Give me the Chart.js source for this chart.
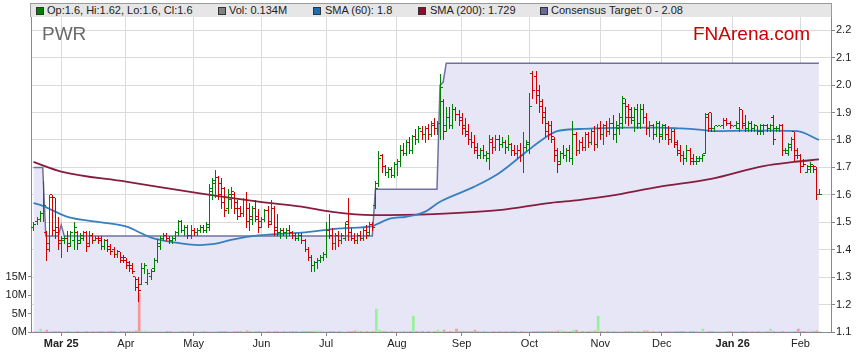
<!DOCTYPE html>
<html><head><meta charset="utf-8">
<script src="https://cdn.jsdelivr.net/npm/chart.js@4.4.1/dist/chart.umd.min.js"></script>
<style>
html,body{margin:0;padding:0;background:#fff;}
#wrap{position:relative;width:859px;height:363px;overflow:hidden;font-family:"Liberation Sans",Arial,sans-serif;}
#c{position:absolute;left:0;top:0;}
#hdr{position:absolute;left:30px;top:3px;width:800px;height:13px;background:#e6e6e6;border-top:1px solid #9a9a9a;border-left:1px solid #9a9a9a;border-right:1px solid #9a9a9a;}
.it{position:absolute;top:1px;font-size:11px;line-height:11px;color:#222;white-space:nowrap;}
.sq{position:absolute;top:3px;width:6px;height:6px;border:1px solid #333;}
#sym{position:absolute;left:42px;top:24px;font-size:19px;line-height:19px;color:#6a6a6a;}
#brand{position:absolute;left:693px;top:24px;font-size:19px;line-height:19px;color:#cc0000;}
</style></head>
<body>
<div id="wrap">
<canvas id="c" width="859" height="363"></canvas>
<div id="hdr">
  <div class="sq" style="left:5px;background:#008000"></div><div class="it" id="lgOHLC" style="left:16px"></div>
  <div class="sq" style="left:187px;background:#808080"></div><div class="it" id="lgVol" style="left:198px"></div>
  <div class="sq" style="left:282px;background:#1f6db0"></div><div class="it" id="lgS60" style="left:294px"></div>
  <div class="sq" style="left:387px;background:#8a0f30"></div><div class="it" id="lgS200" style="left:399px"></div>
  <div class="sq" style="left:509px;background:#6a6a9a"></div><div class="it" id="lgTgt" style="left:520px"></div>
</div>
<div id="sym">PWR</div>
<div id="brand">FNArena.com</div>
</div>
<script>
// ---- categories / ticks ----
const tickIdx    = [9, 30, 52, 74, 95, 118, 139, 161, 184, 204, 227, 249];
const tickLabels = ['Mar 25','Apr','May','Jun','Jul','Aug','Sep','Oct','Nov','Dec','Jan 26','Feb'];
const priceTicks = [1.1,1.2,1.3,1.4,1.5,1.6,1.7,1.8,1.9,2.0,2.1,2.2];
const volTicks   = [0, 5, 10, 15];

// ---- OHLC (one bar per weekday, 18 Feb 2025 .. 10 Feb 2026) ----
const opens = [
1.48,1.50,1.51,1.53,1.46,1.42,1.60,1.59,1.48,1.42,
1.43,1.44,1.42,1.43,1.46,1.43,1.44,1.46,1.42,1.45,
1.43,1.44,1.44,1.41,1.43,1.41,1.40,1.38,1.39,1.37,
1.37,1.35,1.34,1.30,1.29,1.27,1.33,1.28,1.30,1.33,
1.36,1.41,1.44,1.45,1.44,1.43,1.44,1.46,1.50,1.47,
1.48,1.45,
1.47,1.46,1.47,1.48,1.47,1.48,1.61,1.64,
1.66,1.64,1.62,1.55,1.58,1.60,1.57,1.55,1.53,1.58,
1.55,1.51,1.55,1.52,
1.50,1.51,1.54,1.50,1.55,1.48,
1.46,1.47,1.46,1.47,1.46,1.45,1.44,1.45,1.43,1.40,
1.37,1.34,1.35,1.36,1.37,
1.38,1.47,1.45,1.42,1.45,
1.43,1.44,1.50,1.46,1.44,1.43,1.45,1.44,1.47,
1.46,1.49,1.56,1.64,1.74,1.70,1.68,1.69,1.67,
1.71,1.72,1.76,1.75,1.79,1.76,1.81,1.80,1.83,1.82,
1.84,1.82,1.85,1.84,1.86,1.94,1.85,1.88,1.85,1.91,1.89,
1.88,1.85,1.83,1.80,1.79,1.77,1.74,1.76,1.74,1.73,
1.79,1.77,1.80,1.78,1.79,1.77,1.78,1.76,
1.75,1.76,1.74,1.77,
1.78,2.04,2.03,1.98,1.94,1.90,1.86,1.85,1.80,1.76,
1.72,1.75,1.74,1.76,1.73,1.82,1.76,1.79,1.77,1.82,1.79,1.83,1.78,
1.84,1.82,1.85,1.83,1.86,1.82,1.84,1.86,1.93,1.92,
1.91,1.87,1.91,1.86,1.91,1.88,1.84,1.85,1.82,1.86,
1.82,1.85,1.82,1.80,1.83,1.79,1.76,1.74,1.73,1.76,
1.73,1.72,1.72,1.73,1.75,1.88,1.90,1.84,1.85,1.85,1.85,1.87,1.86,
1.85,1.85,1.84,1.91,1.86,1.84,1.86,1.84,1.85,1.83,1.83,
1.85,1.84,1.88,1.84,1.84,1.85,1.76,1.75,1.77,1.83,
1.76,1.74,1.72,1.68,1.69,1.70,1.70,1.60];
const highs = [
1.50,1.52,1.54,1.65,1.47,1.60,1.60,1.59,1.52,1.45,
1.45,1.47,1.47,1.50,1.47,1.46,1.47,1.47,1.47,1.46,
1.45,1.45,1.45,1.44,1.44,1.42,1.41,1.40,1.39,1.38,
1.37,1.36,1.35,1.30,1.30,1.35,1.35,1.33,1.33,1.37,
1.44,1.45,1.46,1.46,1.45,1.45,1.47,1.51,1.51,1.49,
1.49,1.49,
1.48,1.48,1.49,1.49,1.50,1.64,1.66,1.69,
1.67,1.66,1.63,1.62,1.63,1.61,1.58,1.56,1.59,1.61,
1.57,1.56,1.58,1.55,
1.52,1.55,1.56,1.58,1.56,1.53,
1.48,1.48,1.48,1.49,1.47,1.46,1.46,1.46,1.44,1.41,
1.38,1.36,1.37,1.38,1.39,
1.50,1.53,1.48,1.46,1.47,
1.46,1.50,1.59,1.48,1.46,1.46,1.47,1.48,1.49,
1.50,1.50,1.65,1.76,1.75,1.71,1.70,1.70,1.72,
1.73,1.78,1.79,1.80,1.81,1.82,1.84,1.85,1.85,1.85,
1.86,1.87,1.88,1.87,2.04,1.95,1.92,1.92,1.93,1.92,1.91,
1.90,1.88,1.86,1.83,1.82,1.79,1.77,1.78,1.76,1.82,
1.81,1.82,1.82,1.81,1.80,1.82,1.79,1.78,
1.78,1.79,1.83,1.80,
1.97,2.05,2.05,2.00,1.95,1.92,1.87,1.87,1.81,1.77,
1.76,1.78,1.77,1.78,1.87,1.83,1.80,1.81,1.83,1.83,1.84,1.85,1.86,
1.87,1.86,1.87,1.88,1.89,1.87,1.90,1.96,1.95,1.93,
1.92,1.92,1.93,1.93,1.93,1.90,1.87,1.86,1.87,1.87,
1.86,1.86,1.85,1.84,1.84,1.80,1.78,1.76,1.78,1.77,
1.75,1.74,1.74,1.75,1.90,1.90,1.90,1.85,1.85,1.85,1.88,1.88,1.87,
1.85,1.87,1.92,1.91,1.89,1.87,1.87,1.86,1.85,1.86,1.86,
1.86,1.86,1.89,1.85,1.86,1.86,1.77,1.79,1.81,1.83,
1.77,1.75,1.73,1.71,1.72,1.71,1.70,1.62];
const lows = [
1.47,1.49,1.50,1.50,1.36,1.39,1.45,1.44,1.40,1.37,
1.42,1.39,1.41,1.40,1.40,1.42,1.43,1.39,1.41,1.42,
1.43,1.42,1.40,1.40,1.39,1.38,1.37,1.37,1.35,1.35,
1.33,1.32,1.31,1.25,1.21,1.27,1.31,1.27,1.29,1.32,
1.35,1.40,1.43,1.43,1.42,1.42,1.43,1.45,1.46,1.45,
1.44,1.44,
1.45,1.45,1.46,1.46,1.46,1.47,1.58,1.59,
1.58,1.55,1.52,1.53,1.55,1.53,1.51,1.52,1.52,1.48,
1.47,1.49,1.50,1.46,
1.48,1.50,1.48,1.49,1.45,1.45,
1.44,1.45,1.44,1.45,1.44,1.43,1.43,1.42,1.39,1.36,
1.32,1.32,1.33,1.35,1.36,
1.37,1.44,1.40,1.40,1.41,
1.42,1.43,1.43,1.43,1.42,1.42,1.43,1.43,1.44,
1.45,1.47,1.55,1.63,1.68,1.67,1.66,1.66,1.66,
1.67,1.70,1.74,1.74,1.75,1.75,1.78,1.79,1.80,1.79,
1.80,1.81,1.82,1.82,1.80,1.80,1.83,1.84,1.84,1.87,1.85,
1.82,1.81,1.78,1.77,1.75,1.73,1.73,1.73,1.72,1.69,
1.75,1.76,1.76,1.77,1.75,1.76,1.74,1.74,
1.73,1.72,1.68,1.76,
1.75,1.95,1.93,1.90,1.86,1.81,1.80,1.79,1.72,1.68,
1.71,1.73,1.72,1.72,1.71,1.74,1.75,1.76,1.76,1.77,1.78,1.76,1.77,
1.80,1.78,1.81,1.82,1.80,1.79,1.82,1.84,1.86,1.85,
1.86,1.83,1.84,1.84,1.86,1.82,1.81,1.80,1.81,1.79,
1.80,1.80,1.78,1.79,1.77,1.74,1.72,1.71,1.72,1.71,
1.71,1.71,1.72,1.72,1.75,1.83,1.83,1.83,1.85,1.85,1.84,1.85,1.84,
1.85,1.84,1.83,1.84,1.83,1.83,1.83,1.83,1.82,1.82,1.82,
1.83,1.83,1.78,1.83,1.83,1.74,1.75,1.74,1.76,1.72,
1.73,1.68,1.70,1.68,1.68,1.68,1.58,1.60];
const closes = [
1.49,1.51,1.53,1.56,1.40,1.59,1.47,1.46,1.43,1.44,
1.44,1.41,1.46,1.48,1.42,1.45,1.46,1.41,1.45,1.43,
1.44,1.43,1.41,1.43,1.40,1.39,1.38,1.39,1.36,1.36,
1.34,1.33,1.32,1.26,1.25,1.33,1.34,1.31,1.32,1.36,
1.42,1.44,1.45,1.44,1.43,1.44,1.46,1.50,1.47,1.48,
1.45,1.47,
1.46,1.47,1.48,1.47,1.49,1.62,1.65,1.66,
1.60,1.57,1.54,1.60,1.61,1.55,1.52,1.53,1.58,1.50,
1.52,1.55,1.51,1.48,
1.51,1.54,1.49,1.55,1.47,1.46,
1.47,1.46,1.47,1.46,1.45,1.44,1.45,1.43,1.40,1.37,
1.34,1.35,1.36,1.37,1.38,
1.47,1.45,1.42,1.45,1.43,
1.45,1.49,1.46,1.44,1.43,1.45,1.44,1.47,1.45,
1.49,1.48,1.62,1.73,1.70,1.68,1.69,1.67,1.71,
1.72,1.76,1.75,1.79,1.76,1.81,1.80,1.84,1.82,1.84,
1.82,1.86,1.84,1.86,1.99,1.83,1.88,1.85,1.91,1.89,1.87,
1.84,1.82,1.80,1.79,1.76,1.74,1.76,1.74,1.75,1.80,
1.77,1.80,1.78,1.79,1.77,1.78,1.76,1.75,
1.76,1.74,1.77,1.79,
1.92,1.98,1.96,1.92,1.88,1.83,1.82,1.81,1.74,1.71,
1.75,1.74,1.76,1.73,1.82,1.76,1.79,1.77,1.82,1.79,1.83,1.78,1.84,
1.82,1.85,1.83,1.86,1.82,1.85,1.88,1.95,1.88,1.88,
1.88,1.91,1.86,1.91,1.88,1.84,1.85,1.82,1.86,1.81,
1.85,1.82,1.80,1.83,1.78,1.75,1.74,1.73,1.76,1.72,
1.72,1.73,1.73,1.74,1.89,1.84,1.84,1.85,1.85,1.85,1.87,1.86,1.85,
1.85,1.86,1.91,1.85,1.84,1.86,1.84,1.85,1.83,1.85,1.85,
1.84,1.85,1.80,1.84,1.85,1.76,1.76,1.78,1.80,1.74,
1.74,1.70,1.71,1.70,1.71,1.69,1.60,1.60];
// volume, millions
const volumes = [
0.1,0.1,0.8,0.1,0.5,0.1,0.1,0.1,0.1,0.1,
0.1,0.1,0.1,0.1,0.1,0.1,0.1,0.1,0.1,0.1,
0.1,0.1,0.1,0.1,0.1,0.2,0.1,0.1,0.1,0.1,
0.1,0.1,0.1,0.3,10.5,0.3,0.3,0.1,0.1,0.1,
0.1,0.2,0.1,0.1,0.1,0.1,0.1,0.2,0.1,0.1,
0.1,0.1,0.1,0.1,0.1,0.1,0.1,0.1,0.1,0.1,
0.1,0.1,0.1,0.1,0.1,0.1,0.1,0.1,0.1,0.3,
0.1,0.1,0.1,0.1,0.1,0.1,0.1,0.1,0.1,0.1,
0.1,0.1,0.1,0.1,0.1,0.1,0.1,0.1,0.1,0.1,
0.1,0.3,0.3,0.3,0.1,0.1,0.1,0.1,0.1,0.1,
0.1,0.1,0.1,0.1,0.3,0.3,0.1,0.1,0.1,0.1,
0.1,6.2,0.5,0.1,0.1,0.1,0.1,0.2,0.1,0.1,
0.1,0.1,0.1,4.3,0.1,0.1,0.2,0.1,0.2,0.1,
0.1,0.5,0.1,0.5,0.1,0.1,0.1,0.8,0.1,0.2,
0.1,0.1,0.1,0.5,0.1,0.1,0.1,0.1,0.1,0.1,
0.1,0.1,0.1,0.1,0.1,0.1,0.2,0.1,0.2,0.2,
0.1,0.2,0.1,0.2,0.1,0.1,0.1,0.1,0.1,0.1,
0.3,0.3,0.1,0.1,0.1,0.5,0.5,0.1,0.1,0.1,
0.1,0.3,0.3,4.3,0.1,0.1,0.1,0.2,0.1,0.1,
0.1,0.1,0.1,0.1,0.1,0.1,0.1,0.1,0.3,0.3,
0.1,0.2,0.1,0.1,0.1,0.1,0.1,0.1,0.1,0.1,
0.1,0.1,0.1,0.1,0.1,0.1,0.1,0.8,0.1,0.1,
0.1,0.1,0.1,0.1,0.1,0.1,0.1,0.1,0.1,0.1,
0.1,0.1,0.1,0.1,0.1,0.1,0.1,0.1,0.1,0.8,
0.1,0.1,0.1,0.1,0.1,0.1,0.1,0.1,0.8,0.1,
0.1,0.1,0.3,0.1,0.3,0.134];

// moving averages, read at sampled bars
const sma60Idx = [0,3,11,22,30,38,45,54,58,65,73,87,100,110,112,116,121,127,132,143,151,160,165,170,177,182,192,203,210,216,222,230,240,248,255];
const sma60Val = [1.57,1.56,1.52,1.50,1.485,1.445,1.428,1.417,1.42,1.438,1.452,1.462,1.478,1.486,1.496,1.514,1.52,1.538,1.575,1.629,1.678,1.757,1.80,1.832,1.84,1.842,1.845,1.845,1.842,1.838,1.832,1.834,1.834,1.832,1.80];
const sma200Idx = [0,9,30,54,73,87,97,110,130,151,168,177,187,203,220,237,247,255];
const sma200Val = [1.72,1.685,1.648,1.605,1.575,1.557,1.538,1.526,1.53,1.544,1.571,1.581,1.596,1.629,1.658,1.705,1.72,1.729];

// consensus target (change points)
const targetIdx = [0,3,4,8,9,10,110,111,131,132,133,134,255];
const targetVal = [1.70,1.70,1.45,1.45,1.49,1.45,1.45,1.62,1.62,2.00,2.01,2.08,2.08];

// ---- header legend text from data ----
const last = opens.length - 1;
const fmt = v => String(+v.toFixed(3));
document.getElementById('lgOHLC').textContent = `Op:${fmt(opens[last])}, Hi:${fmt(highs[last])}, Lo:${fmt(lows[last])}, Cl:${fmt(closes[last])}`;
document.getElementById('lgVol').textContent = `Vol: ${fmt(volumes[last])}M`;
document.getElementById('lgS60').textContent = `SMA (60): ${fmt(sma60Val[sma60Val.length-1])}`;
document.getElementById('lgS200').textContent = `SMA (200): ${fmt(sma200Val[sma200Val.length-1])}`;
document.getElementById('lgTgt').textContent = `Consensus Target: 0 - ${targetVal[targetVal.length-1].toFixed(2)}`;

// ---- build datasets ----
const GREEN = '#008000', RED = '#d00000';
const idx = opens.map((_, i) => i);
const up = idx.map(i => closes[i] >= opens[i]);
const pairs = (xs, ys) => xs.map((x, k) => ({x, y: ys[k]}));

const ohlcTicks = {
  id: 'ohlcTicks',
  afterDatasetsDraw(chart) {
    const {ctx, chartArea: a, scales: {x, y}} = chart;
    ctx.save();
    ctx.beginPath(); ctx.rect(a.left, a.top, a.right - a.left, a.bottom - a.top); ctx.clip();
    idx.forEach(i => {
      const px = Math.round(x.getPixelForValue(i));
      const yh = Math.round(y.getPixelForValue(highs[i])), yl = Math.round(y.getPixelForValue(lows[i]));
      ctx.fillStyle = up[i] ? GREEN : RED;
      ctx.fillRect(px, yh, 1, Math.max(1, yl - yh));
      ctx.fillRect(px - 2, Math.round(y.getPixelForValue(opens[i])) - 1, 2, 1);
      ctx.fillRect(px + 1, Math.round(y.getPixelForValue(closes[i])) - 1, 2, 1);
    });
    ctx.restore();
  }
};

Chart.defaults.font.family = '"Liberation Sans", Arial, sans-serif';
Chart.defaults.font.size = 11;
Chart.defaults.color = '#222';

new Chart(document.getElementById('c'), {
  data: {
    datasets: [
      { type: 'line', label: 'Consensus Target', data: pairs(targetIdx, targetVal), yAxisID: 'y',
        borderColor: 'rgba(105,105,155,0.95)', borderWidth: 1.5, backgroundColor: 'rgb(230,230,246)',
        fill: 'start', pointRadius: 0, tension: 0, order: 10 },
      { type: 'bar', label: 'Vol', data: idx.map(i => ({x: i, y: volumes[i]})), yAxisID: 'yv',
        backgroundColor: idx.map(i => up[i] ? 'rgb(150,242,150)' : 'rgb(246,150,150)'),
        barThickness: 2, order: 9 },
      { type: 'line', label: 'SMA (200)', data: pairs(sma200Idx, sma200Val), yAxisID: 'y',
        borderColor: 'rgb(135,28,62)', borderWidth: 1.8, pointRadius: 0, cubicInterpolationMode: 'monotone', order: 6 },
      { type: 'line', label: 'SMA (60)', data: pairs(sma60Idx, sma60Val), yAxisID: 'y',
        borderColor: 'rgb(55,128,192)', borderWidth: 1.8, pointRadius: 0, cubicInterpolationMode: 'monotone', order: 5 },
      { type: 'bar', label: 'Price range', data: idx.map(i => ({x: i, y: [lows[i], highs[i]]})), yAxisID: 'y',
        backgroundColor: 'rgba(0,0,0,0)', barThickness: 1, order: 1 }
    ]
  },
  options: {
    responsive: false, animation: false, devicePixelRatio: 1,
    layout: { padding: { top: 17, left: 0, right: 0, bottom: 0 } },
    plugins: { legend: { display: false }, tooltip: { enabled: false } },
    scales: {
      x: {
        type: 'linear', position: 'bottom', min: -0.81, max: 258.93, offset: false,
        afterBuildTicks: ax => { ax.ticks = tickIdx.map(v => ({ value: v })); },
        afterFit: ax => { ax.height = 31; },
        ticks: {
          autoSkip: false, maxRotation: 0, padding: 1, color: '#222',
          callback: v => tickLabels[tickIdx.indexOf(v)],
          font: c => ({ size: 11, weight: /\d/.test(tickLabels[c.index] || '') ? 'bold' : 'normal' })
        },
        grid: { color: '#dadada', tickLength: 4, tickColor: '#888', offset: false },
        border: { color: '#888' }
      },
      y: {
        type: 'linear', position: 'right', min: 1.1, max: 2.2484,
        afterBuildTicks: ax => { ax.ticks = priceTicks.map(v => ({ value: v })); },
        afterFit: ax => { ax.width = 28; },
        ticks: { padding: 1, color: '#222', callback: v => v.toFixed(1) },
        grid: { color: '#dadada', tickLength: 4, tickColor: '#888' },
        border: { color: '#888' }
      },
      yv: {
        type: 'linear', position: 'left', min: 0, max: 85.4,
        afterBuildTicks: ax => { ax.ticks = volTicks.map(v => ({ value: v })); },
        afterFit: ax => { ax.width = 31; },
        ticks: { padding: 1, color: '#222', callback: v => v + 'M' },
        grid: { drawOnChartArea: false, tickLength: 3, color: '#888' },
        border: { color: '#888' }
      }
    }
  },
  plugins: [ohlcTicks]
});
</script>
</body></html>
